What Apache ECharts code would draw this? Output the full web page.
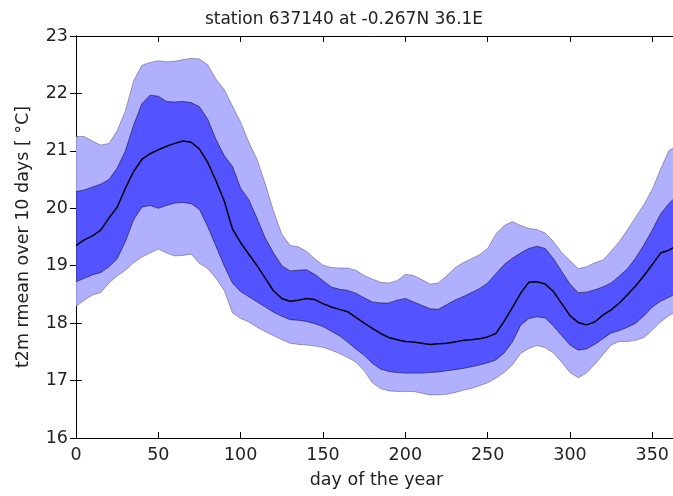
<!DOCTYPE html>
<html>
<head>
<meta charset="utf-8">
<script src="https://cdn.jsdelivr.net/npm/echarts@6/dist/echarts.min.js"></script>
<style>
html,body{margin:0;padding:0;background:#fff;}
#chart{width:673px;height:496px;}
</style>
</head>
<body>
<div id="chart"></div>
<script>
const days = [0,5,10,15,20,25,30,35,40,45,50,55,60,65,70,75,80,85,90,95,100,105,110,115,120,125,130,135,140,145,150,155,160,165,170,175,180,185,190,195,200,205,210,215,220,225,230,235,240,245,250,255,260,265,270,275,280,285,290,295,300,305,310,315,320,325,330,335,340,345,350,355,360,365];

const meanVals = [19.35,19.45,19.52,19.62,19.83,20.02,20.35,20.64,20.85,20.95,21.02,21.08,21.13,21.17,21.15,21.03,20.80,20.48,20.13,19.64,19.40,19.20,19.00,18.78,18.56,18.43,18.38,18.40,18.43,18.41,18.34,18.28,18.24,18.20,18.10,18.00,17.91,17.82,17.75,17.71,17.68,17.67,17.65,17.63,17.64,17.65,17.67,17.70,17.71,17.73,17.76,17.82,18.03,18.27,18.52,18.71,18.72,18.68,18.55,18.34,18.13,18.01,17.97,18.02,18.14,18.23,18.35,18.50,18.65,18.83,19.02,19.22,19.27,19.35];

const innerUpper = [20.29,20.32,20.37,20.42,20.50,20.70,21.00,21.45,21.82,21.97,21.95,21.86,21.85,21.86,21.84,21.77,21.55,21.20,20.92,20.73,20.35,20.15,19.82,19.48,19.22,19.00,18.91,18.92,18.93,18.85,18.74,18.63,18.59,18.57,18.52,18.44,18.37,18.35,18.35,18.40,18.43,18.37,18.31,18.25,18.24,18.32,18.40,18.46,18.53,18.60,18.70,18.86,19.02,19.13,19.22,19.30,19.34,19.30,19.12,18.90,18.68,18.53,18.54,18.58,18.63,18.70,18.82,18.95,19.14,19.37,19.62,19.90,20.08,20.22];

const innerLower = [18.72,18.78,18.84,18.88,18.98,19.12,19.42,19.80,20.02,20.05,20.00,20.05,20.09,20.10,20.08,19.98,19.68,19.34,19.00,18.70,18.55,18.46,18.37,18.28,18.19,18.12,18.06,18.05,18.03,17.99,17.94,17.86,17.78,17.67,17.55,17.44,17.30,17.20,17.16,17.14,17.13,17.13,17.13,17.14,17.15,17.17,17.19,17.21,17.24,17.27,17.31,17.36,17.48,17.67,17.96,18.08,18.11,18.09,17.95,17.78,17.62,17.53,17.55,17.63,17.73,17.83,17.87,17.93,18.00,18.13,18.28,18.38,18.45,18.52];

const outerUpper = [21.25,21.25,21.17,21.10,21.13,21.35,21.70,22.22,22.49,22.54,22.57,22.55,22.56,22.59,22.61,22.60,22.50,22.25,22.07,21.78,21.50,21.15,20.85,20.42,19.95,19.55,19.35,19.33,19.25,19.12,19.01,18.97,18.96,18.96,18.92,18.83,18.77,18.71,18.70,18.74,18.85,18.83,18.76,18.68,18.70,18.82,18.96,19.05,19.12,19.19,19.30,19.55,19.70,19.77,19.70,19.65,19.63,19.57,19.42,19.23,19.09,18.95,18.98,19.05,19.10,19.25,19.42,19.63,19.85,20.07,20.33,20.68,21.00,21.10];

const outerLower = [18.29,18.40,18.49,18.53,18.70,18.82,18.92,19.05,19.15,19.22,19.29,19.22,19.17,19.18,19.20,19.04,18.95,18.78,18.57,18.18,18.08,18.02,17.93,17.85,17.78,17.71,17.65,17.63,17.62,17.60,17.58,17.53,17.47,17.40,17.32,17.17,16.96,16.86,16.82,16.81,16.81,16.81,16.78,16.75,16.75,16.76,16.79,16.83,16.86,16.91,16.96,17.04,17.14,17.27,17.47,17.56,17.61,17.57,17.48,17.32,17.14,17.05,17.13,17.28,17.45,17.62,17.68,17.68,17.70,17.75,17.88,18.02,18.13,18.20];

const xTicks = [0,50,100,150,200,250,300,350];
const yTicks = [16,17,18,19,20,21,22,23];

const FONT = 'DejaVu Sans';
const TXT = '#222';
const FS = 17.5;

function band(upper, lower, fill, stroke) {
  return {
    type: 'custom',
    xAxisIndex: 0,
    yAxisIndex: 0,
    clip: true,
    silent: true,
    data: [[days[0], lower[0]]],
    renderItem: function (params, api) {
      const pts = [];
      for (let i = 0; i < days.length; i++) pts.push(api.coord([days[i], upper[i]]));
      for (let i = days.length - 1; i >= 0; i--) pts.push(api.coord([days[i], lower[i]]));
      return {
        type: 'polygon',
        shape: { points: pts },
        style: { fill: fill, stroke: stroke, lineWidth: 1 }
      };
    }
  };
}

const chart = echarts.init(document.getElementById('chart'));
const axisCommon = {
  axisLine: { show: true, lineStyle: { color: '#000', width: 1 } },
  axisTick: { show: true, inside: true, length: 6, lineStyle: { color: '#000' } },
  splitLine: { show: false }
};
chart.setOption({
  animation: false,
  backgroundColor: '#fff',
  title: {
    text: 'station 637140 at -0.267N 36.1E',
    left: 339,
    top: 6,
    textAlign: 'center',
    textStyle: { fontFamily: FONT, fontSize: 17, fontWeight: 'normal', color: TXT }
  },
  grid: { left: 76, top: 36, width: 601, height: 402, show: false, containLabel: false, outerBoundsMode: 'none' },
  xAxis: [
    Object.assign({
      type: 'value', min: 0, max: 365, interval: 50, position: 'bottom',
      name: 'day of the year', nameLocation: 'middle', nameGap: 33,
      nameTextStyle: { fontFamily: FONT, fontSize: FS, color: TXT },
      axisLabel: { fontFamily: FONT, fontSize: FS, color: TXT, margin: 8, showMaxLabel: false,
        formatter: function (v) { return xTicks.indexOf(v) >= 0 ? String(v) : ''; } }
    }, axisCommon),
    Object.assign({
      type: 'value', min: 0, max: 365, interval: 50, position: 'top',
      axisLabel: { show: false }
    }, axisCommon)
  ],
  yAxis: [
    Object.assign({
      type: 'value', min: 16, max: 23, interval: 1, position: 'left',
      name: 't2m rmean over 10 days [ °C]', nameLocation: 'middle', nameGap: 44,
      nameTextStyle: { fontFamily: FONT, fontSize: FS, color: TXT },
      axisLabel: { fontFamily: FONT, fontSize: FS, color: TXT, margin: 8,
        formatter: function (v) { return yTicks.indexOf(v) >= 0 ? String(v) : ''; } }
    }, axisCommon),
    Object.assign({
      type: 'value', min: 16, max: 23, interval: 1, position: 'right',
      axisLabel: { show: false }
    }, axisCommon)
  ],
  series: [
    band(outerUpper, outerLower, '#b0b0ff', 'rgba(0,0,0,0.3)'),
    band(innerUpper, innerLower, '#5353ff', 'rgba(0,0,0,0.5)'),
    {
      type: 'line',
      xAxisIndex: 0, yAxisIndex: 0,
      data: days.map(function (d, i) { return [d, meanVals[i]]; }),
      showSymbol: false,
      symbol: 'none',
      lineStyle: { color: '#000', width: 1.5 },
      clip: true,
      silent: true
    }
  ]
});
</script>
</body>
</html>
